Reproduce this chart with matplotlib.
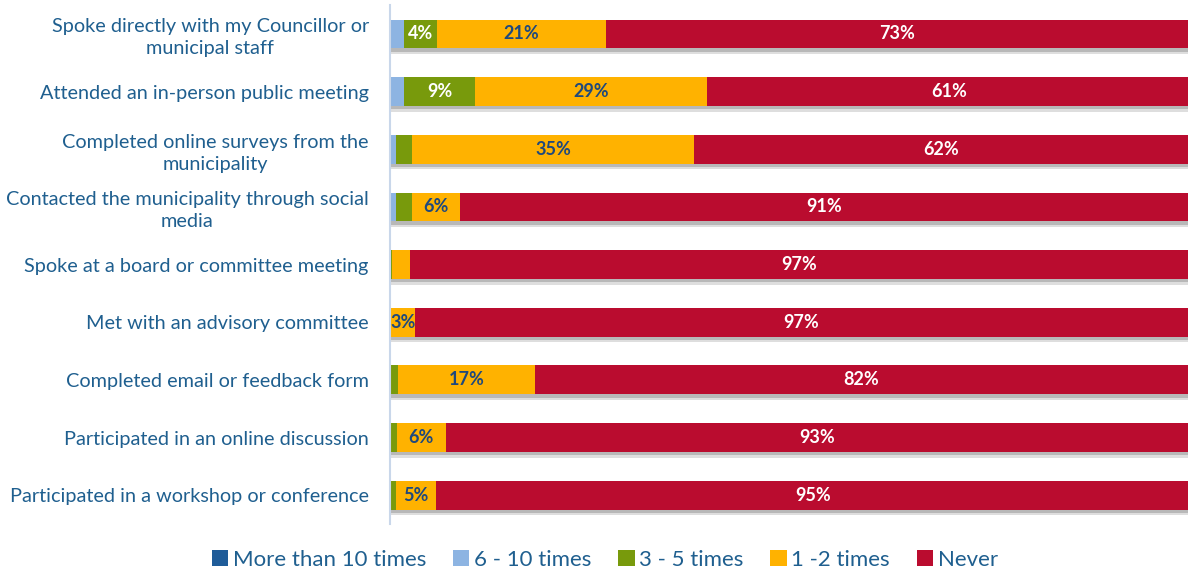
import numpy as np
import matplotlib
matplotlib.use('Agg')
import matplotlib.pyplot as plt

plt.rcParams['font.family'] = ['Lato', 'DejaVu Sans']

activities = [
    'Spoke directly with my Councillor or\nmunicipal staff',
    'Attended an in-person public meeting',
    'Completed online surveys from the\nmunicipality',
    'Contacted the municipality through social\nmedia',
    'Spoke at a board or committee meeting',
    'Met with an advisory committee',
    'Completed email or feedback form',
    'Participated in an online discussion',
    'Participated in a workshop or conference',
]

series = ['More than 10 times', '6 - 10 times', '3 - 5 times', '1 -2 times', 'Never']

# percent of respondents, one list per answer
more_than_10 = [0, 0, 0, 0, 0, 0, 0, 0, 0]
six_to_10 = [1.8, 1.8, 0.8, 0.8, 0, 0, 0, 0, 0]
three_to_5 = [4.1, 8.9, 2.0, 2.0, 0.3, 0.2, 1.1, 0.9, 0.8]
one_to_2 = [21.2, 29.1, 35.3, 6.0, 2.3, 3.0, 17.1, 6.1, 5.0]
never = [72.9, 60.6, 61.9, 91.2, 97.4, 96.8, 81.8, 93.0, 94.6]

colors = ['#1f5c99', '#8db4e2', '#789a0c', '#ffb200', '#ba0c2f']
label_colors = [None, None, 'white', '#1f497d', 'white']
text_blue = '#1f5f8f'

fig = plt.figure(figsize=(11.88, 5.69), dpi=100)
ax = fig.add_axes([0.328, 0.079, 0.672, 0.912])

y = np.arange(len(activities))
h = 0.5

# soft shadow under each bar
ax.barh(y + 0.1, 100, height=h, color='#dedede', zorder=1)
ax.barh(y + 0.06, 100, height=h, color='#b8b8b8', zorder=1)

left = np.zeros(len(activities))
data = [more_than_10, six_to_10, three_to_5, one_to_2, never]
for name, vals, col, lcol in zip(series, data, colors, label_colors):
    vals = np.array(vals, dtype=float)
    ax.barh(y, vals, left=left, height=h, color=col, label=name, zorder=2)
    if lcol:
        for yi, l, v in zip(y, left, vals):
            if v >= 2.5:
                ax.text(l + v / 2, yi, f'{v:.0f}%', ha='center', va='center',
                        color=lcol, fontsize=13, fontweight='bold', zorder=3)
    left += vals

ax.set_xlim(0, 100)
ax.set_ylim(len(activities) - 0.5, -0.5)
ax.set_yticks(y)
ax.set_yticklabels(activities, fontsize=14.3, color=text_blue, ha='right',
                   multialignment='center', linespacing=1.35)
ax.tick_params(axis='y', length=0, pad=15)
ax.set_xticks([])
for s in ['top', 'right', 'bottom']:
    ax.spines[s].set_visible(False)
ax.spines['left'].set_color('#c9d7ea')
ax.spines['left'].set_linewidth(1.5)

leg = fig.legend(loc='center', bbox_to_anchor=(0.509, 0.016), ncol=5, frameon=False,
                 fontsize=16, handlelength=0.75, handleheight=0.75, handletextpad=0.2,
                 columnspacing=1.2)
for t in leg.get_texts():
    t.set_color(text_blue)

fig.savefig('out.png', dpi=100)
